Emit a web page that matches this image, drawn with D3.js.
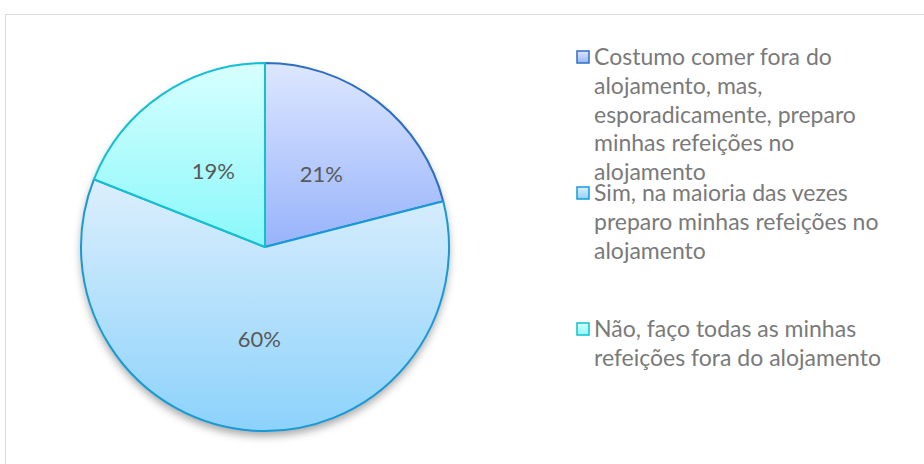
<!DOCTYPE html>
<html><head>
<meta charset="utf-8">
<script src="https://cdnjs.cloudflare.com/ajax/libs/d3/7.8.5/d3.min.js"></script>
<style>
  body { margin: 0; background: #fff; }
  text { font-family: Lato, "Open Sans", sans-serif; }
</style>
</head>
<body>
<script>
// data
var categories = [
  "Costumo comer fora do alojamento, mas, esporadicamente, preparo minhas refeições no alojamento",
  "Sim, na maioria das vezes preparo minhas refeições no alojamento",
  "Não, faço todas as minhas refeições fora do alojamento"
];
var legendLines = [
  ["Costumo comer fora do", "alojamento, mas,", "esporadicamente, preparo", "minhas refeições no", "alojamento"],
  ["Sim, na maioria das vezes", "preparo minhas refeições no", "alojamento"],
  ["Não, faço todas as minhas", "refeições fora do alojamento"]
];
var values = [21, 60, 19];
var labels = ["21%", "60%", "19%"];

var gradTop = ["#dde7ff", "#dceffd", "#d8ffff"];
var gradBot = ["#97b3fb", "#8cd2fb", "#8af8fa"];
var strokes = ["#2f6fc2", "#179ad6", "#14bfd0"];

var width = 924, height = 464;
var cx = 265, cy = 247, r = 184;

var svg = d3.select("body").append("svg")
  .attr("width", width)
  .attr("height", height);

// outer frame
svg.append("rect")
  .attr("x", 5.5).attr("y", 14.5)
  .attr("width", 940).attr("height", 470)
  .attr("fill", "#fff")
  .attr("stroke", "#d9d9d9");

var defs = svg.append("defs");
values.forEach(function(v, i) {
  var g = defs.append("linearGradient")
    .attr("id", "grad" + i)
    .attr("x1", 0).attr("y1", 0).attr("x2", 0).attr("y2", 1);
  g.append("stop").attr("offset", "0%").attr("stop-color", gradTop[i]);
  g.append("stop").attr("offset", "100%").attr("stop-color", gradBot[i]);
});
var f = defs.append("filter").attr("id", "shadow")
  .attr("x", "-20%").attr("y", "-20%").attr("width", "140%").attr("height", "140%");
f.append("feDropShadow")
  .attr("dx", 0).attr("dy", 5).attr("stdDeviation", 4)
  .attr("flood-color", "#000").attr("flood-opacity", 0.35);

var pie = d3.pie().sort(null).value(function(d) { return d; });
var arc = d3.arc().innerRadius(0).outerRadius(r);
var arcs = pie(values);

var g = svg.append("g")
  .attr("transform", "translate(" + cx + "," + cy + ")");

g.append("circle").attr("r", r).attr("fill", "#fff").attr("filter", "url(#shadow)");

g.selectAll("path.slice")
  .data(arcs)
  .enter().append("path")
  .attr("class", "slice")
  .attr("d", arc)
  .attr("fill", function(d, i) { return "url(#grad" + i + ")"; })
  .attr("stroke", function(d, i) { return strokes[i]; })
  .attr("stroke-width", 2)
  .attr("stroke-linejoin", "round");

var labelArc = d3.arc().innerRadius(r * 0.5).outerRadius(r * 0.5);
g.selectAll("text.lbl")
  .data(arcs)
  .enter().append("text")
  .attr("class", "lbl")
  .attr("transform", function(d) { return "translate(" + labelArc.centroid(d) + ")"; })
  .attr("text-anchor", "middle")
  .attr("dy", "0.35em")
  .attr("fill", "#595959")
  .style("font-size", "22px")
  .text(function(d, i) { return labels[i]; });

// legend
var legendTop = [57, 193, 329];
var lineH = 28.8;
var leg = svg.append("g");
legendLines.forEach(function(lines, i) {
  leg.append("rect")
    .attr("x", 577).attr("y", legendTop[i] - 6)
    .attr("width", 12).attr("height", 12)
    .attr("fill", "url(#grad" + i + ")")
    .attr("stroke", strokes[i])
    .attr("stroke-width", 1.5);
  var t = leg.append("text")
    .attr("x", 594)
    .attr("y", legendTop[i])
    .attr("fill", "#7a7a7a")
    .style("font-size", "23px");
  lines.forEach(function(s, j) {
    t.append("tspan")
      .attr("x", 594)
      .attr("y", legendTop[i] + j * lineH)
      .attr("dy", "0.35em")
      .text(s);
  });
});
</script>
</body></html>
